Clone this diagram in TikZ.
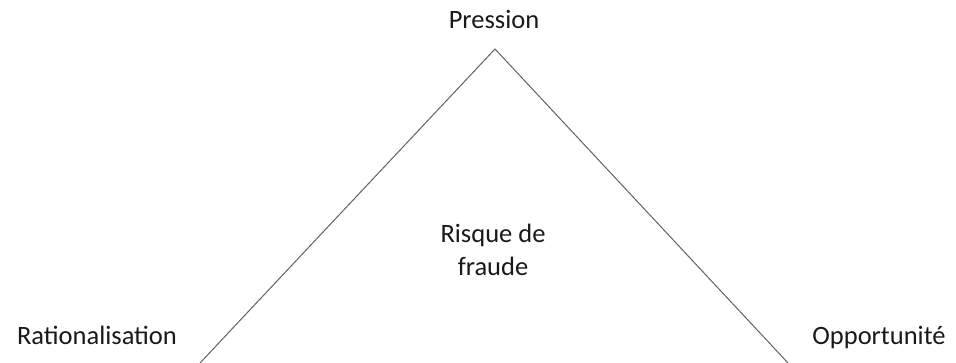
\documentclass[tikz,border=0pt]{standalone}
\usepackage{fontspec}
\setmainfont{Carlito}
\usepackage{tikz}
\tikzset{
  fr label/.style={
    inner sep=0pt,
    text=black!90,
    font=\fontsize{26.5}{33}\selectfont,
    anchor=base,
  },
  fr centre/.style={
    inner sep=0pt,
    text=black!90,
    font=\fontsize{26.5}{33}\selectfont,
    align=center,
  },
  fr edge/.style={line width=1pt, draw=black!62},
}

\begin{document}
\begin{tikzpicture}[x=1pt,y=1pt]
  \useasboundingbox (0,0) rectangle (956,363);
  \coordinate (apex) at (495,314);
  \coordinate (left foot) at (200,0);
  \coordinate (right foot) at (788,0);

  \node[fr label] (pression) at (494,334) {Pression};
  \node[fr label] (ratio) at (97,18) {Rationalisation};
  \node[fr label] (oppo) at (879,18) {Opportunit\'e};
  \node[fr centre] (risque) at (493,113) {Risque de\\fraude};

  \draw[fr edge] (left foot) -- (apex) -- (right foot);
\end{tikzpicture}
\end{document}
